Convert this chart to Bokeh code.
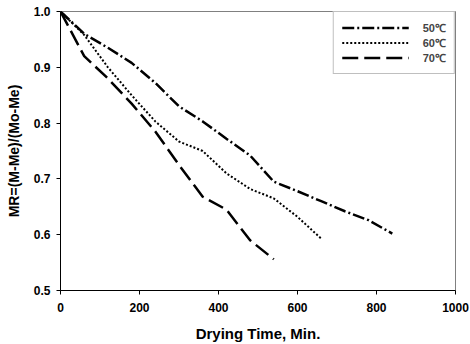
from bokeh.plotting import figure
from bokeh.models import Range1d, FixedTicker, PrintfTickFormatter, Legend, LegendItem
from bokeh.embed import file_html
from bokeh.resources import INLINE

t50 = [0, 60, 120, 180, 240, 300, 360, 420, 480, 540, 600, 660, 720, 780, 840]
mr50 = [1.0, 0.96, 0.935, 0.908, 0.872, 0.83, 0.803, 0.772, 0.742, 0.695, 0.678, 0.66, 0.642, 0.626, 0.602]

t60 = [0, 60, 120, 180, 240, 300, 360, 420, 480, 540, 600, 660]
mr60 = [1.0, 0.958, 0.9, 0.85, 0.803, 0.767, 0.75, 0.71, 0.682, 0.665, 0.632, 0.593]

t70 = [0, 60, 120, 180, 240, 300, 360, 420, 480, 540]
mr70 = [1.0, 0.92, 0.88, 0.835, 0.785, 0.725, 0.668, 0.645, 0.59, 0.556]

series_labels = ["50℃", "60℃", "70℃"]
x_ticks = [0, 200, 400, 600, 800, 1000]
y_ticks = [0.5, 0.6, 0.7, 0.8, 0.9, 1.0]

FONT = "Liberation Sans"

p = figure(width=470, height=344, output_backend="svg", toolbar_location=None,
           x_range=Range1d(0, 1000), y_range=Range1d(0.5, 1.0),
           min_border_left=60, min_border_right=15, min_border_top=11, min_border_bottom=54)

p.xgrid.visible = False
p.ygrid.visible = False
p.outline_line_color = "#808080"
p.outline_line_width = 1

for ax in (p.xaxis[0], p.yaxis[0]):
    ax.axis_line_color = "black"
    ax.axis_line_width = 1
    ax.major_tick_in = 0
    ax.major_tick_out = 4
    ax.minor_tick_line_color = None
    ax.major_label_text_font = FONT
    ax.major_label_text_font_style = "bold"
    ax.major_label_text_font_size = "12px"
    ax.major_label_text_color = "black"
    ax.axis_label_text_font = FONT
    ax.axis_label_text_font_style = "bold"
    ax.axis_label_text_color = "black"

p.xaxis.axis_label_text_font_size = "15px"
p.yaxis.axis_label_text_font_size = "14px"
p.xaxis.ticker = FixedTicker(ticks=x_ticks)
p.yaxis.ticker = FixedTicker(ticks=y_ticks)
p.yaxis.formatter = PrintfTickFormatter(format="%.1f")
p.xaxis.major_label_standoff = 8
p.yaxis.major_label_standoff = 6
p.xaxis.axis_label = "Drying Time, Min."
p.yaxis.axis_label = "MR=(M-Me)/(Mo-Me)"
p.xaxis.axis_label_standoff = 10
p.yaxis.axis_label_standoff = 9

r50 = p.line(t50, mr50, line_color="black", line_width=2.5, line_dash="12 3 2 3")
r60 = p.line(t60, mr60, line_color="black", line_width=2, line_dash="2 2")
r70 = p.line(t70, mr70, line_color="black", line_width=2.5, line_dash="16 6")

legend = Legend(items=[LegendItem(label=series_labels[0], renderers=[r50]),
                       LegendItem(label=series_labels[1], renderers=[r60]),
                       LegendItem(label=series_labels[2], renderers=[r70])],
                location="top_right", margin=0, padding=8, spacing=0,
                glyph_width=67, glyph_height=15, label_standoff=14,
                label_text_font=FONT, label_text_font_style="bold",
                label_text_font_size="11px", label_height=15,
                border_line_color="#808080", border_line_width=1,
                background_fill_color="white", background_fill_alpha=1)
p.add_layout(legend, "center")

open("out.html", "w").write(file_html(p, INLINE))
